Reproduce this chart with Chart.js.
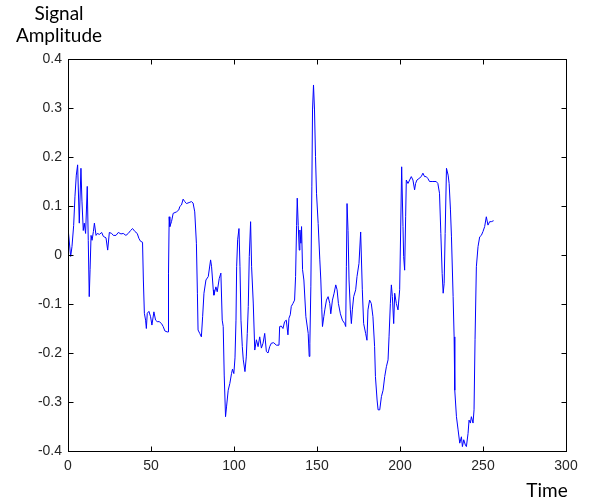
<!DOCTYPE html>
<html><head><meta charset="utf-8">
<style>html,body{margin:0;padding:0;background:#fff;}canvas{display:block;}</style>
<script src="https://cdn.jsdelivr.net/npm/chart.js@4/dist/chart.umd.min.js"></script>
</head><body>
<canvas id="c" width="593" height="501"></canvas>
<script>
// Sample times (x)
const times = [
  0.3,0.3,1.6,2.4,3.4,4.2,5.0,5.8,6.8,7.8,8.4,9.2,9.8,10.6,11.6,12.2,12.8,13.3,13.9,14.5,
  15.3,15.9,16.9,17.7,18.9,20.3,21.3,22.9,23.9,24.9,26.3,27.3,28.9,30.3,31.9,33.3,34.9,36.3,37.7,38.9,
  40.3,41.7,42.7,43.7,44.9,
  45.4,46,46.75,47.2,47.75,48.75,49.75,50.55,51.75,52.75,53.75,54.95,56.35,57.35,58.35,59.75,60.35,
  60.55,60.95,61.35,62.35,63.35,65.35,66.75,67.35,68.35,69.35,70.35,71.35,72.95,74.35,75.35,76.35,77.35,77.95,78.35,79.35,80.35,
  81.1,81.9,83.1,84.5,85.9,86.5,87.5,87.9,89.1,89.9,91.1,92.1,92.9,93.5,94.1,94.9,95.5,96.5,97.5,98.5,99.1,99.9,100.6,
  101.2,101.6,102.2,103,103.6,104.2,105,105.6,106.6,107.4,108,108.6,109.2,110,110.6,111.6,112.5,113.5,114.5,115.5,
  116.5,117.5,118.5,119.5,120.5,121.5,122.5,123.9,125.5,127.1,
  127.5,128.5,129.5,130.5,131.5,132.5,133.1,133.9,134.5,135.5,136.5,137.1,
  137.7,138.1,138.7,139.3,139.7,140.3,140.7,141.3,142.1,143.3,144.7,145.3,145.7,146.3,146.9,147.3,147.9,148.5,149.1,149.7,
  150.7,151.7,152.3,152.9,153.3,154.1,154.7,155.7,156.7,157.7,158.3,159.3,160.3,161.3,162.1,162.9,164.1,165.3,166.7,167.3,
  167.7,168.1,168.7,169.3,170.1,170.7,171.3,172.1,173.3,174.1,175.3,176.3,177.3,178.1,179.3,180.1,180.7,181.7,182.7,183.7,184.7,
  185.2,186.2,186.8,187.8,188.8,189.8,190.8,191.8,192.8,193.4,194.2,194.8,195.4,196.2,196.8,197.8,198.8,199.8,200.4,201,
  201.8,202.2,202.8,203.4,203.8,204.8,205.8,206.8,207.8,208.8,209.4,210.2,211.4,212.8,213.8,214.8,215.8,216.8,217.8,219.8,
  221.8,222.8,223.8,
  224.6,225.4,226,226.6,227.2,228,229,229.6,230.4,231,232,232.6,233,234,235,236,237,237.6,238.4,239.4,
  240,241,241.6,242.4,243,244,244.6,245.2,246,247,248,249,250,251,252,253,254,255,256.4
];
// Signal amplitude values
const amplitudes = [
  0.092,0.045,-0.003,0.017,0.06,0.12,0.163,0.184,0.065,0.177,0.11,0.05,0.065,0.044,0.14,0.03,-0.085,-0.03,0.04,0.03,
  0.048,0.065,0.04,0.044,0.042,0.046,0.038,0.035,0.01,0.046,0.044,0.04,0.04,0.046,0.043,0.044,0.04,0.044,0.05,0.054,
  0.048,0.044,0.034,0.028,0.026,
  -0.051,-0.119,-0.133,-0.15,-0.119,-0.115,-0.126,-0.143,-0.116,-0.133,-0.136,-0.136,-0.14,-0.146,-0.155,-0.157,-0.157,
  -0.037,0.078,0.058,0.068,0.085,0.088,0.092,0.099,0.102,0.114,0.109,0.105,0.107,0.109,0.106,0.088,0.024,-0.078,-0.153,-0.16,-0.167,
  -0.126,-0.078,-0.051,-0.044,-0.01,-0.024,-0.071,-0.082,-0.065,-0.075,-0.048,-0.037,-0.133,-0.146,-0.245,-0.33,-0.31,-0.276,-0.262,-0.242,-0.233,-0.242,-0.21,
  -0.133,-0.024,0.031,0.054,-0.024,-0.133,-0.187,-0.214,-0.238,-0.208,-0.16,-0.105,-0.003,0.068,-0.024,-0.098,-0.194,-0.173,-0.187,-0.167,
  -0.19,-0.18,-0.16,-0.197,-0.2,-0.187,-0.18,-0.179,-0.184,-0.184,
  -0.146,-0.145,-0.15,-0.136,-0.133,-0.163,-0.129,-0.122,-0.105,-0.099,-0.092,-0.044,
  0.06,0.116,0.06,0.01,0.051,0.024,0.058,-0.03,-0.051,-0.126,-0.16,-0.207,-0.18,-0.065,0.139,0.296,0.347,0.296,0.201,0.126,
  0.064,-0.01,-0.051,-0.112,-0.146,-0.126,-0.112,-0.092,-0.085,-0.099,-0.12,-0.092,-0.078,-0.061,-0.071,-0.099,-0.12,-0.133,-0.14,-0.146,
  -0.024,0.105,0.05,-0.051,-0.112,-0.14,-0.112,-0.085,-0.071,-0.044,-0.017,0.047,-0.071,-0.14,-0.16,-0.174,-0.112,-0.092,-0.099,-0.126,-0.187,
  -0.248,-0.296,-0.316,-0.316,-0.289,-0.276,-0.248,-0.228,-0.214,-0.167,-0.099,-0.061,-0.085,-0.14,-0.078,-0.099,-0.112,-0.071,0.051,0.18,
  0.058,-0.003,-0.031,0.078,0.153,0.146,0.153,0.16,0.153,0.133,0.146,0.153,0.156,0.16,0.167,0.16,0.16,0.156,0.15,0.15,
  0.15,0.146,0.126,
  0.044,-0.038,-0.078,-0.058,0.044,0.177,0.163,0.146,0.092,0.037,-0.085,-0.167,-0.276,-0.33,-0.357,-0.384,-0.371,-0.391,-0.377,-0.388,
  -0.391,-0.364,-0.337,-0.343,-0.33,-0.343,-0.316,-0.173,-0.024,0.017,0.037,0.04,0.048,0.058,0.078,0.061,0.068,0.068,0.07
];
const xTicks = [0, 50, 100, 150, 200, 250, 300];
const xTickLabels = ['0', '50', '100', '150', '200', '250', '300'];
const yTicks = [-0.4, -0.3, -0.2, -0.1, 0, 0.1, 0.2, 0.3, 0.4];
const yTickLabels = ['-0.4', '-0.3', '-0.2', '-0.1', '0', '0.1', '0.2', '0.3', '0.4'];
const yTitleLines = ['Signal', 'Amplitude'];
const xTitle = 'Time';

const points = times.map((t, i) => ({ x: t, y: amplitudes[i] }));

const boxPlugin = {
  id: 'matlabBox',
  afterDraw(chart) {
    const { ctx, chartArea: a, scales: { x, y } } = chart;
    ctx.save();
    ctx.strokeStyle = '#000';
    ctx.lineWidth = 1;
    const L = Math.round(a.left) + 0.5, R = Math.round(a.right) + 0.5;
    const T = Math.round(a.top) + 0.5, B = Math.round(a.bottom) + 0.5;
    ctx.strokeRect(L, T, R - L, B - T);
    const tl = 5;
    ctx.beginPath();
    x.ticks.forEach(tk => {
      const px = Math.round(x.getPixelForValue(tk.value)) + 0.5;
      ctx.moveTo(px, B); ctx.lineTo(px, B - tl);
      ctx.moveTo(px, T); ctx.lineTo(px, T + tl);
    });
    y.ticks.forEach(tk => {
      const py = Math.round(y.getPixelForValue(tk.value)) + 0.5;
      ctx.moveTo(L, py); ctx.lineTo(L + tl, py);
      ctx.moveTo(R, py); ctx.lineTo(R - tl, py);
    });
    ctx.stroke();
    ctx.fillStyle = '#000';
    ctx.font = '19px Lato, "Open Sans", sans-serif';
    ctx.textAlign = 'center';
    ctx.textBaseline = 'alphabetic';
    ctx.fillText(yTitleLines[0], 59, 20);
    ctx.fillText(yTitleLines[1], 59, 42);
    ctx.fillText(xTitle, 547, 497);
    ctx.restore();
  }
};

const tickFont = { family: "'Liberation Sans', Arial, sans-serif", size: 14 };
new Chart(document.getElementById('c'), {
  type: 'line',
  data: { datasets: [{ data: points, borderColor: '#0000ff', borderWidth: 1, pointRadius: 0, tension: 0, fill: false }] },
  options: {
    responsive: false,
    animation: false,
    events: [],
    plugins: { legend: { display: false }, tooltip: { enabled: false } },
    layout: { padding: { top: 59, right: 27, left: 0, bottom: 0 } },
    scales: {
      x: {
        type: 'linear', min: 0, max: 300,
        afterBuildTicks(s) { s.ticks = xTicks.map(v => ({ value: v })); },
        afterFit(s) { s.height = 50; },
        grid: { display: false, drawTicks: false },
        border: { display: false },
        ticks: { padding: 7, color: '#262626', font: tickFont, maxRotation: 0, autoSkip: false,
          callback: (v, i) => xTickLabels[i] }
      },
      y: {
        type: 'linear', min: -0.4, max: 0.4,
        afterBuildTicks(s) { s.ticks = yTicks.map(v => ({ value: v })); },
        afterFit(s) { s.width = 68; },
        grid: { display: false, drawTicks: false },
        border: { display: false },
        ticks: { padding: 6, color: '#262626', font: tickFont, autoSkip: false,
          callback: (v, i) => yTickLabels[i] }
      }
    }
  },
  plugins: [boxPlugin]
});
</script>
</body></html>
